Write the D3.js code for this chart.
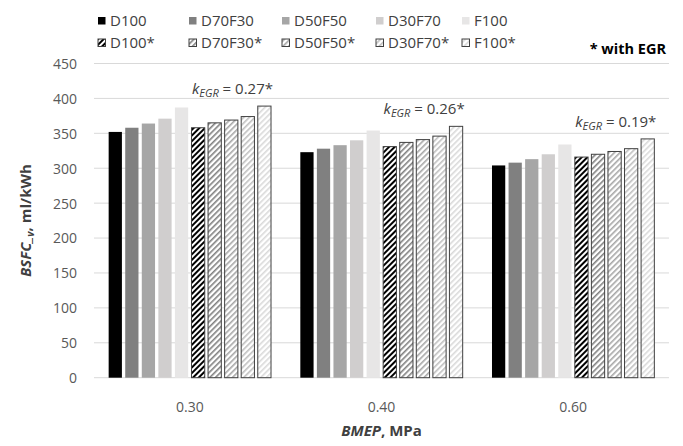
<!DOCTYPE html>
<html lang="en">
<head>
<meta charset="UTF-8">
<title>BSFC chart</title>
<script src="https://d3js.org/d3.v7.min.js"></script>
<style>
  body { margin: 0; padding: 0; background: #fff; }
  svg text { font-family: "Open Sans", sans-serif; fill: #404040; }
  .tick text { font-size: 14px; fill: #595959; }
  .legend text { font-size: 15px; fill: #404040; }
</style>
</head>
<body>
<svg width="683" height="446"></svg>
<script>
// data
const categories = ["0.30", "0.40", "0.60"];
const series = ["D100", "D70F30", "D50F50", "D30F70", "F100",
                "D100*", "D70F30*", "D50F50*", "D30F70*", "F100*"];
const D100 = [352, 323, 304];
const D70F30 = [358, 328, 308];
const D50F50 = [364, 333, 313];
const D30F70 = [371, 340, 320];
const F100 = [387, 354, 334];
const D100egr = [358, 331, 316];
const D70F30egr = [365, 337, 320];
const D50F50egr = [369, 341, 324];
const D30F70egr = [374, 346, 328];
const F100egr = [389, 360, 342];
const kEgr = ["0.27*", "0.26*", "0.19*"];
const yTicks = [0, 50, 100, 150, 200, 250, 300, 350, 400, 450];

const values = [D100, D70F30, D50F50, D30F70, F100,
                D100egr, D70F30egr, D50F50egr, D30F70egr, F100egr];

const colors = ["#000000", "#808080", "#a6a6a6", "#d0cece", "#e7e6e6",
                "#000000", "#808080", "#a6a6a6", "#bfbfbf", "#d9d9d9"];

const svg = d3.select("svg");
const margin = {left: 94, right: 14, top: 63.5, bottom: 68.3};
const W = 683, H = 446;

const x = d3.scaleBand().domain(categories).range([margin.left, W - margin.right]);
const xi = d3.scaleBand().domain(series)
    .range([13, x.bandwidth() - 13]).paddingInner(0.2).paddingOuter(0.1);
const y = d3.scaleLinear().domain([0, 450]).range([H - margin.bottom, margin.top]);

// hatch patterns
const defs = svg.append("defs");
series.forEach(function (s, i) {
    if (i < 5) return;
    const p = defs.append("pattern")
        .attr("id", "hatch" + i)
        .attr("patternUnits", "userSpaceOnUse")
        .attr("width", 4).attr("height", 4)
        .attr("patternTransform", "rotate(45)");
    p.append("rect").attr("width", 4).attr("height", 4).attr("fill", "#fff");
    p.append("rect").attr("width", i == 5 ? 2 : 1.6).attr("height", 4).attr("fill", colors[i]);
});

function fillOf(i) { return i < 5 ? colors[i] : "url(#hatch" + i + ")"; }

// gridlines
svg.append("g").selectAll("line")
    .data(yTicks)
    .join("line")
    .attr("x1", margin.left).attr("x2", W - margin.right)
    .attr("y1", d => y(d)).attr("y2", d => y(d))
    .attr("stroke", "#d9d9d9").attr("stroke-width", 1);

// y axis labels
const yAxis = svg.append("g")
    .attr("transform", "translate(" + (margin.left - 17) + ",0)")
    .call(d3.axisLeft(y).tickValues(yTicks).tickSize(0).tickPadding(0));
yAxis.select(".domain").remove();
yAxis.selectAll("text").attr("dy", "0.35em");

// x axis labels
const xAxis = svg.append("g")
    .attr("transform", "translate(0," + (H - margin.bottom) + ")")
    .call(d3.axisBottom(x).tickSize(0).tickPadding(24));
xAxis.select(".domain").remove();

// bars
const groups = svg.append("g").selectAll("g")
    .data(categories)
    .join("g")
    .attr("transform", d => "translate(" + x(d) + ",0)");

groups.selectAll("rect")
    .data((c, ci) => series.map((s, si) => ({s: s, si: si, v: values[si][ci]})))
    .join("rect")
    .attr("x", d => xi(d.s))
    .attr("width", xi.bandwidth())
    .attr("y", d => y(d.v))
    .attr("height", d => y(0) - y(d.v))
    .attr("fill", d => fillOf(d.si))
    .attr("stroke", d => d.si < 5 ? "none" : "#404040")
    .attr("stroke-width", 1);

// k_EGR annotations
groups.append("text")
    .attr("x", xi("F100*") + xi.bandwidth() + 2)
    .attr("y", (c, ci) => y(F100egr[ci]) - 12)
    .attr("text-anchor", "end")
    .style("font-size", "15px")
    .each(function (c, ci) {
        const t = d3.select(this);
        t.append("tspan").attr("font-style", "italic").text("k");
        t.append("tspan").attr("font-size", "11px").attr("font-style", "italic").attr("dy", "3").text("EGR");
        t.append("tspan").attr("dy", "-3").text(" = " + kEgr[ci]);
    });

// legend
const legend = svg.append("g").attr("class", "legend");
const lx = [98, 189, 282, 376, 462];
series.forEach(function (s, i) {
    const gx = lx[i % 5], gy = i < 5 ? 21 : 43;
    legend.append("rect")
        .attr("x", gx).attr("y", gy - 4)
        .attr("width", 7.5).attr("height", 7.5)
        .attr("fill", fillOf(i))
        .attr("stroke", i < 5 ? "none" : "#404040");
    legend.append("text")
        .attr("x", gx + 12).attr("y", gy)
        .attr("dy", "0.35em")
        .text(s);
});
svg.append("text")
    .attr("x", 666).attr("y", 49)
    .attr("dy", "0.35em")
    .attr("text-anchor", "end")
    .style("font-size", "14.5px").style("font-weight", "bold").style("fill", "#000")
    .text("* with EGR");

// axis titles
const xt = svg.append("text")
    .attr("x", (margin.left + W - margin.right) / 2).attr("y", 436)
    .attr("text-anchor", "middle")
    .style("font-size", "15px").style("font-weight", "bold");
xt.append("tspan").attr("font-style", "italic").text("BMEP");
xt.append("tspan").text(", MPa");

const yt = svg.append("text")
    .attr("transform", "translate(31," + ((margin.top + H - margin.bottom) / 2) + ") rotate(-90)")
    .attr("text-anchor", "middle")
    .style("font-size", "15px").style("font-weight", "bold");
yt.append("tspan").attr("font-style", "italic").text("BSFC_");
yt.append("tspan").attr("font-style", "italic").attr("font-size", "10px").attr("dy", "3").text("v");
yt.append("tspan").attr("dy", "-3").text(", ml/kWh");
</script>
</body>
</html>
